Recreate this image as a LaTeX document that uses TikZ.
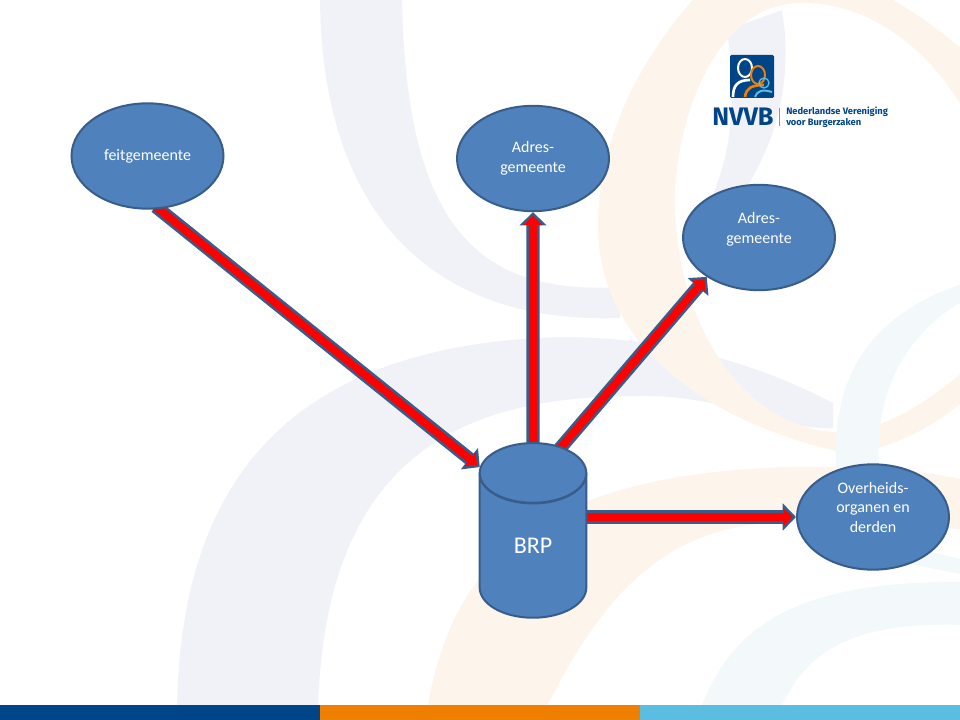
\documentclass[tikz,border=0pt]{standalone}
\usepackage{fontspec}
\setmainfont{Carlito}
\newfontfamily\logofont{Fira Sans}
\usetikzlibrary{arrows.meta, shapes.geometric, backgrounds}

\definecolor{vulblauw}{HTML}{4F81BD}
\definecolor{randblauw}{HTML}{385D8A}
\definecolor{vlaklila}{HTML}{F0F2F8}
\definecolor{vlakoranje}{HTML}{FDF5EC}
\definecolor{vlakcyaan}{HTML}{F3F9FA}
\definecolor{nvvbblauw}{HTML}{004587}
\definecolor{nvvboranje}{HTML}{EE7F00}
\definecolor{nvvbcyaan}{HTML}{5BBDE0}

\tikzset{
    gemeente/.style={ellipse, draw=randblauw, fill=vulblauw, line width=1.5pt, text=white,
        minimum width=114pt, minimum height=79pt, inner sep=-5pt, align=center,
        font=\fontsize{12}{14.6}\selectfont},
    dikkepijl/.style={draw=red, line width=6pt, shorten <=-3pt, shorten >=2.5pt, -{Triangle[length=7pt, width=13pt]},
        preaction={draw=randblauw, line width=10pt, shorten <=-3pt, shorten >=0pt, -{Triangle[length=10pt, width=20pt]}}}
}

\begin{document}
\begin{tikzpicture} [x=0.75pt, y=-0.75pt]
    \useasboundingbox (0, 0) rectangle (960, 720);

    % Gemeenten en overige afnemers
    \node [gemeente] (feit) at (147.5, 156) {feitgemeente};
    \node [gemeente] (adres) at (533, 158.5) {Adres-\\gemeente};
    \node [gemeente] (adresb) at (759, 237.5) {Adres-\\gemeente\\~};
    \node [gemeente] (derden) at (873, 517) {Overheids-\\organen en\\derden\\~};

    % Cilinder BRP
    \node [cylinder, shape border rotate=90, aspect=1.57, draw=randblauw, fill=vulblauw, line width=1.5pt,
        minimum width=80pt, minimum height=131pt, inner sep=0pt, text=white,
        font=\fontsize{18}{22}\selectfont] (brp) at (533, 546) {BRP};
    \draw [randblauw, line width=1.5pt] ([xshift=-0.75pt]brp.after top) arc (0:180:53.3 and 29.5);

    % Achtergrond en pijlen onder de vormen
    \begin{scope}[on background layer]
        \begin{scope}
            \clip (0, 0) rectangle (960, 720);
            % Lila banden
            \fill [vlaklila] (320, -5) .. controls (320, 200) and (420, 325) .. (620, 318)
                -- (620, 287) .. controls (480, 295) and (405, 230) .. (402, -5) -- cycle;
            \fill [vlaklila] (727, 30) .. controls (735, 90) and (735, 140) .. (713, 195)
                -- (745, 190) .. controls (770, 150) and (795, 90) .. (782, 10) -- cycle;
            \fill [vlaklila] (177, 710) .. controls (180, 480) and (290, 345) .. (560, 337)
                .. controls (680, 337) and (770, 370) .. (833, 403)
                -- (833, 428) .. controls (770, 430) and (730, 395) .. (640, 396)
                .. controls (480, 396) and (325, 440) .. (318, 710) -- cycle;

            % Oranje banden
            \fill [vlakoranje] (697, -5) .. controls (630, 70) and (598, 150) .. (598, 227)
                .. controls (598, 340) and (700, 420) .. (840, 452)
                .. controls (880, 455) and (930, 430) .. (965, 400)
                -- (965, 370) .. controls (930, 400) and (880, 435) .. (833, 432)
                .. controls (740, 425) and (675, 320) .. (675, 200)
                .. controls (675, 130) and (710, 5) .. (800, 3)
                .. controls (870, 2) and (930, 50) .. (965, 112)
                -- (965, 52) .. controls (935, 25) and (910, 10) .. (885, -5) -- cycle;
            \fill [vlakoranje] (427, 710) .. controls (450, 570) and (530, 475) .. (787, 467)
                .. controls (860, 465) and (920, 470) .. (965, 480)
                -- (965, 530) .. controls (900, 522) and (830, 520) .. (770, 523)
                .. controls (660, 530) and (600, 600) .. (545, 710) -- cycle;

            % Cyaan banden
            \fill [vlakcyaan] (700, 710) .. controls (730, 630) and (790, 580) .. (965, 582)
                -- (965, 625) .. controls (870, 622) and (810, 640) .. (780, 710) -- cycle;
            \fill [vlakcyaan] (837, 480) .. controls (830, 400) and (850, 320) .. (965, 283)
                -- (965, 300) .. controls (910, 330) and (870, 390) .. (880, 480) -- cycle;
            \fill [vlakcyaan] (900, 545) -- (965, 560) -- (965, 575) -- (900, 562) -- cycle;
        \end{scope}

        % Balk onderaan
        \foreach \x/\kleur in {0/nvvbblauw, 320/nvvboranje, 640/nvvbcyaan}
            \fill [\kleur] (\x, 705) rectangle ++(320, 15);

        % Pijlen
        \draw [dikkepijl] (feit.-78) -- (brp.124);
        \draw [dikkepijl] (brp.north) -- (adres.south);
        \draw [dikkepijl] (brp.74) -- (adresb.217);
        \draw [dikkepijl] (brp.east |- derden.west) -- (derden.west);
    \end{scope}

    % Logo
    \fill [nvvbblauw, rounded corners=1pt] (730, 55) rectangle (774, 98);
    \draw [white, line width=1.5pt] (745, 68) ellipse (7 and 9);
    \draw [white, line width=2pt] (733, 97) .. controls (733, 85) and (738, 80) .. (750, 80);
    \draw [nvvboranje, line width=1.5pt] (758, 75) ellipse (7 and 9);
    \draw [nvvboranje, line width=2pt] (745, 97) .. controls (746, 88) and (752, 85) .. (764, 85);
    \draw [nvvbcyaan, line width=1pt] (764, 83) circle (5);
    \draw [nvvbcyaan, line width=1.5pt] (755, 97) .. controls (757, 91) and (762, 89) .. (772, 92);
    \node [anchor=west, inner sep=0pt, text=nvvbblauw, font=\logofont\bfseries\fontsize{19}{21}\selectfont] (logoletters) at (712, 117) {NVVB};
    \fill [nvvboranje] (778.5, 108) rectangle (780, 126);
    \node [anchor=west, inner sep=0pt, align=left, text=nvvbblauw, font=\logofont\bfseries\fontsize{7}{8.5}\selectfont] (logonaam) at (786, 117) {Nederlandse Vereniging\\voor Burgerzaken};
\end{tikzpicture}
\end{document}
